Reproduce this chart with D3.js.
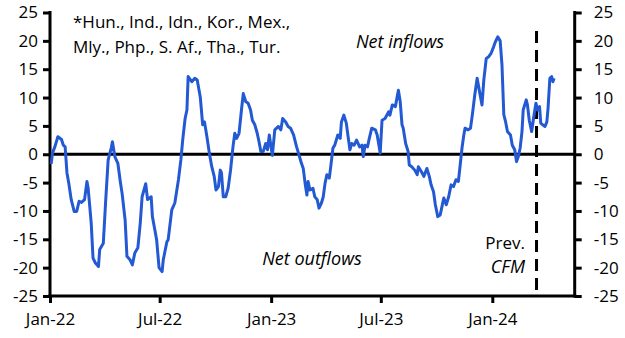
<!DOCTYPE html>
<html>
<head>
<meta charset="utf-8">
<script src="https://cdn.jsdelivr.net/npm/d3@7"></script>
<style>
  html, body { margin: 0; padding: 0; background: #fff; }
  svg { display: block; }
  text { font-family: "Open Sans", "Noto Sans", sans-serif; fill: #000; }
</style>
</head>
<body>
<svg id="chart" width="625" height="338"></svg>
<script>
// ---- data ----
const dates = ["2022-01-03","2022-01-05","2022-01-09","2022-01-14","2022-01-20","2022-01-23","2022-01-26","2022-01-29","2022-02-01","2022-02-05",
"2022-02-10","2022-02-14","2022-02-18","2022-02-22","2022-02-27","2022-03-03","2022-03-05","2022-03-10","2022-03-13","2022-03-17",
"2022-03-22","2022-03-24","2022-03-30","2022-04-03","2022-04-07","2022-04-12","2022-04-14","2022-04-18","2022-04-23","2022-04-27",
"2022-04-30","2022-05-05","2022-05-08","2022-05-13","2022-05-17","2022-05-21","2022-05-26","2022-05-30","2022-06-02","2022-06-08",
"2022-06-11","2022-06-17","2022-06-19","2022-06-23","2022-06-26","2022-06-30","2022-07-05","2022-07-07","2022-07-13","2022-07-15",
"2022-07-21","2022-07-26","2022-08-01","2022-08-05","2022-08-08","2022-08-12","2022-08-15","2022-08-17","2022-08-23","2022-08-28",
"2022-09-01","2022-09-06","2022-09-10","2022-09-13","2022-09-17","2022-09-21","2022-09-25","2022-09-29","2022-10-02","2022-10-06",
"2022-10-09","2022-10-11","2022-10-14","2022-10-18","2022-10-22","2022-10-26","2022-10-30","2022-11-02","2022-11-05","2022-11-09",
"2022-11-13","2022-11-16","2022-11-20","2022-11-24","2022-11-28","2022-12-01","2022-12-05","2022-12-09","2022-12-12","2022-12-15",
"2022-12-19","2022-12-23","2022-12-26","2022-12-29","2022-12-31","2023-01-03","2023-01-07","2023-01-13","2023-01-17","2023-01-20",
"2023-01-25","2023-01-29","2023-02-02","2023-02-07","2023-02-12","2023-02-16","2023-02-20","2023-02-23","2023-02-26","2023-03-01",
"2023-03-03","2023-03-06","2023-03-11","2023-03-14","2023-03-18","2023-03-21","2023-03-25","2023-03-28","2023-03-31","2023-04-03",
"2023-04-07","2023-04-10","2023-04-13","2023-04-16","2023-04-21","2023-04-25","2023-04-27","2023-05-01","2023-05-05","2023-05-08",
"2023-05-11","2023-05-14","2023-05-18","2023-05-22","2023-05-27","2023-05-31","2023-06-02","2023-06-05","2023-06-09","2023-06-12",
"2023-06-16","2023-06-22","2023-06-25","2023-06-30","2023-07-03","2023-07-08","2023-07-14","2023-07-16","2023-07-20","2023-07-25",
"2023-07-30","2023-08-02","2023-08-05","2023-08-07","2023-08-11","2023-08-15","2023-08-17","2023-08-21","2023-08-26","2023-08-30",
"2023-09-01","2023-09-06","2023-09-10","2023-09-15","2023-09-19","2023-09-22","2023-09-26","2023-09-29","2023-10-03","2023-10-07",
"2023-10-10","2023-10-13","2023-10-17","2023-10-21","2023-10-25","2023-10-29","2023-11-02","2023-11-06","2023-11-09","2023-11-12",
"2023-11-15","2023-11-17","2023-11-22","2023-11-26","2023-11-29","2023-12-03","2023-12-07","2023-12-11","2023-12-15","2023-12-18",
"2023-12-22","2023-12-26","2023-12-30","2024-01-03","2024-01-06","2024-01-10","2024-01-14","2024-01-17","2024-01-20","2024-01-23",
"2024-01-26","2024-01-31","2024-02-03","2024-02-07","2024-02-10","2024-02-13","2024-02-16","2024-02-19","2024-02-21","2024-02-26",
"2024-02-28","2024-03-02","2024-03-06","2024-03-09","2024-03-13","2024-03-16","2024-03-19","2024-03-21","2024-03-24","2024-03-28",
"2024-03-31","2024-04-02","2024-04-05","2024-04-08","2024-04-10","2024-04-12"];

const flows = [-1.7,0.2,1.3,3.1,2.6,1.6,1.3,-3.3,-5.1,-8.0,
-10.1,-10.1,-8.3,-8.5,-8.0,-4.8,-6.0,-12.1,-18.3,-19.2,
-19.8,-16.8,-15.7,-8.0,-1.0,1.1,2.2,-0.4,-1.6,-4.8,
-6.9,-11.6,-18.0,-18.6,-19.5,-17.4,-16.5,-12.1,-7.5,-5.2,
-8.0,-7.5,-11.0,-13.3,-15.1,-20.0,-20.7,-18.6,-15.4,-15.1,
-9.8,-8.6,-4.5,-1.0,2.5,6.3,7.8,13.7,12.8,13.4,
13.1,10.1,5.2,5.7,3.1,0.2,-2.2,-3.9,-6.3,-5.7,
-2.8,-3.3,-7.5,-7.5,-6.0,-2.8,1.3,3.7,2.8,3.7,
7.8,10.7,9.3,9.0,7.8,6.0,5.2,3.7,2.2,0.5,
0.5,1.9,0.8,3.4,1.9,-0.2,4.3,4.9,4.3,6.3,
5.7,4.9,4.6,3.4,1.3,-0.1,-1.6,-2.5,-5.1,-7.2,
-4.8,-6.3,-6.0,-7.5,-8.0,-9.5,-8.6,-7.5,-5.1,-3.6,
-4.2,-1.6,1.1,1.6,3.4,2.8,5.7,6.9,5.5,3.1,
0.8,1.9,1.6,2.5,1.3,1.6,-0.4,1.6,1.3,2.8,
4.6,4.3,3.4,0.2,6.0,6.3,7.5,6.9,8.7,8.4,
11.3,9.3,5.2,4.6,1.9,0.5,-1.9,-2.2,-2.8,-3.6,
-2.2,-3.1,-3.9,-2.5,-3.9,-5.4,-6.6,-8.9,-11.0,-10.7,
-9.2,-7.7,-8.9,-7.5,-5.4,-5.7,-4.5,-4.8,-1.9,1.1,
3.4,4.6,4.3,4.6,6.9,10.4,13.4,11.0,8.7,13.1,
16.9,17.2,17.8,18.9,19.8,20.7,20.0,15.7,7.0,5.7,
4.0,3.4,1.6,0.8,-1.3,-0.4,1.1,4.0,7.8,9.6,
8.7,6.0,4.0,6.3,9.0,7.8,8.4,5.5,5.2,4.9,
5.7,8.1,13.4,13.7,12.8,13.4];

const xDomain = ["2022-01-01", "2024-05-16"];
const xTickDates = ["2022-01-01", "2022-07-01", "2023-01-01", "2023-07-01", "2024-01-01"];
const yDomain = [-25, 25];
const yTicks = [-25, -20, -15, -10, -5, 0, 5, 10, 15, 20, 25];
const prevCfmDate = "2024-03-14";
const noteLines = ["*Hun., Ind., Idn., Kor., Mex.,", "Mly., Php., S. Af., Tha., Tur."];
const labelInflows = "Net inflows";
const labelOutflows = "Net outflows";
const labelPrev = ["Prev.", "CFM"];

// ---- drawing ----
const parse = d3.utcParse("%Y-%m-%d");
const svg = d3.select("#chart");
const mLeft = 50, mRight = 574.7, mTop = 12.5, mBottom = 296;
const fs = "17px", fsItal = "18px";

const x = d3.scaleUtc().domain(xDomain.map(parse)).range([mLeft, mRight]);
const y = d3.scaleLinear().domain(yDomain).range([mBottom, mTop]);

const series = dates.map((d, i) => ({ date: parse(d), value: flows[i] }));

const fmtY = d => String(d);
const fmtX = d3.utcFormat("%b-%y");

const gL = svg.append("g").attr("transform", `translate(${mLeft},0)`)
  .call(d3.axisLeft(y).tickValues(yTicks).tickFormat(fmtY).tickSize(7).tickPadding(5));
const gR = svg.append("g").attr("transform", `translate(${mRight},0)`)
  .call(d3.axisRight(y).tickValues(yTicks).tickFormat(fmtY).tickSize(7).tickPadding(12));
const gB = svg.append("g").attr("transform", `translate(0,${mBottom})`)
  .call(d3.axisBottom(x).tickValues(xTickDates.map(parse)).tickFormat(fmtX).tickSize(7).tickPadding(10));

[gL, gR, gB].forEach(g => {
  g.selectAll(".domain").attr("stroke", "#000").attr("stroke-width", 3);
  g.selectAll(".tick line").attr("stroke", "#000").attr("stroke-width", 3);
  g.selectAll(".tick text").style("font-size", fs).attr("fill", "#000");
});
gL.select(".domain").attr("d", `M0,${mTop - 1.5}V${mBottom + 1.5}`);
gR.select(".domain").attr("d", `M0,${mTop - 1.5}V${mBottom + 1.5}`);
gB.select(".domain").attr("d", `M${mLeft - 1.5},0H${mRight + 1.5}`);

svg.append("line")
  .attr("x1", mLeft).attr("x2", mRight)
  .attr("y1", y(0)).attr("y2", y(0))
  .attr("stroke", "#000").attr("stroke-width", 3);

svg.append("line")
  .attr("x1", x(parse(prevCfmDate))).attr("x2", x(parse(prevCfmDate)))
  .attr("y1", 31).attr("y2", mBottom)
  .attr("stroke", "#000").attr("stroke-width", 3)
  .attr("stroke-dasharray", "12,7");

svg.append("path")
  .datum(series)
  .attr("fill", "none")
  .attr("stroke", "#2359d3")
  .attr("stroke-width", 3)
  .attr("stroke-linejoin", "round")
  .attr("d", d3.line().x(d => x(d.date)).y(d => y(d.value)));

const note = svg.append("text").attr("x", 73).attr("y", 28).style("font-size", fs);
noteLines.forEach((t, i) => note.append("tspan").attr("x", 73).attr("y", 28 + i * 24.5).text(t));

svg.append("text").attr("x", 400).attr("y", 48).attr("text-anchor", "middle")
  .style("font-size", fsItal).style("font-style", "italic").text(labelInflows);
svg.append("text").attr("x", 312).attr("y", 265).attr("text-anchor", "middle")
  .style("font-size", fsItal).style("font-style", "italic").text(labelOutflows);
svg.append("text").attr("x", 525).attr("y", 249).attr("text-anchor", "end")
  .style("font-size", fs).text(labelPrev[0]);
svg.append("text").attr("x", 525).attr("y", 273).attr("text-anchor", "end")
  .style("font-size", fsItal).style("font-style", "italic").text(labelPrev[1]);
</script>
</body>
</html>
